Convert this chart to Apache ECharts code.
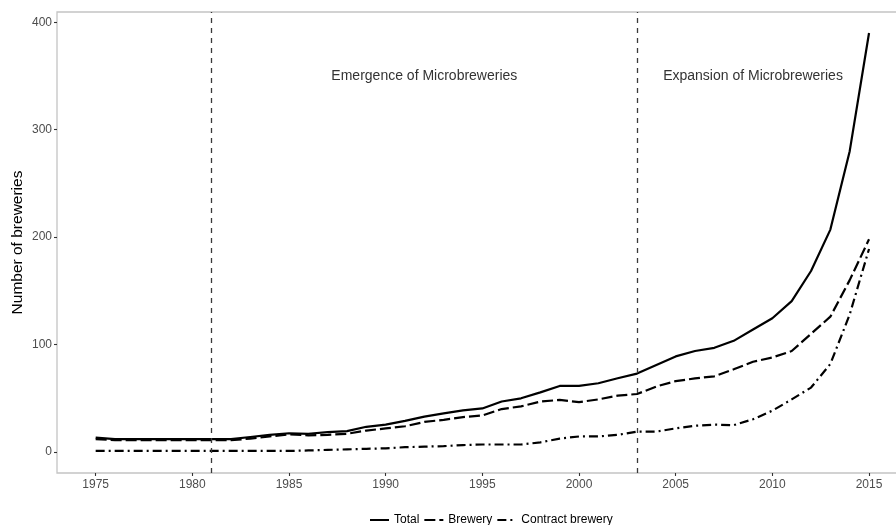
<!DOCTYPE html>
<html>
<head>
<meta charset="utf-8">
<script src="https://cdn.jsdelivr.net/npm/echarts@6/dist/echarts.min.js"></script>
<style>
html,body{margin:0;padding:0;background:#fff;}
#chart{width:896px;height:525px;}
</style>
</head>
<body>
<div id="chart"></div>
<script>
var years = [1975,1976,1977,1978,1979,1980,1981,1982,1983,1984,1985,1986,1987,1988,1989,1990,1991,1992,1993,1994,1995,1996,1997,1998,1999,2000,2001,2002,2003,2004,2005,2006,2007,2008,2009,2010,2011,2012,2013,2014,2015];
var total = [13.5,12,12,12,12,12,12,12,14,16,17.5,17,18.5,19.5,23.5,25.5,29,33,36,38.7,40.6,47,50,55.5,61.5,61.5,64,68.7,73,81,89,94,97,103.5,114,124.5,140.5,168.5,207,280,390];
var brewery = [12,11,11,11,11,11,11,11,12.5,14.5,16.5,15.5,16,17,20,22,24,28,30,32.5,34,40,42.5,47,48.5,46.5,49,52.5,54,61,66,68.5,70.5,77,84,88,94,110,126,160,198];
var contract = [1,1,1,1,1,1,1,1,1,1,1,1.5,2,2.5,3,3.5,4.5,5,5.5,6.5,7,7,7,9,12.5,14.5,14.5,16,19,19,22,24.5,25.5,25,30.5,38.5,49,60,82,128,189];
var xTicks = [1975,1980,1985,1990,1995,2000,2005,2010,2015];
var yTicks = [0,100,200,300,400];
var periodLines = [1981,2003];
var periodLabels = [
  {name:'Emergence of Microbreweries', x:1992, y:350},
  {name:'Expansion of Microbreweries', x:2009, y:350}
];
var seriesNames = ['Total','Brewery','Contract brewery'];

function pairs(vals){ return years.map(function(y,i){ return [y, vals[i]]; }); }

var font = 'Liberation Sans, Arial, sans-serif';
var chart = echarts.init(document.getElementById('chart'), null, {renderer:'canvas'});
chart.setOption({
  animation:false,
  backgroundColor:'#fff',
  textStyle:{fontFamily:font},
  grid:{left:57, top:12, width:850.7, height:461, show:true, borderColor:'#c4c4c4', borderWidth:1.3, containLabel:false, outerBoundsMode:'none'},
  legend:{
    data:seriesNames, left:364, top:509, itemWidth:19, itemHeight:14, itemGap:4,
    itemStyle:{opacity:0},
    textStyle:{fontSize:12, color:'#000', fontFamily:font}
  },
  xAxis:{
    type:'value', min:1973, max:2017,
    splitLine:{show:false},
    axisLine:{show:false, onZero:false},
    axisTick:{show:true, inside:false, length:3, lineStyle:{color:'#333', width:1.1}, customValues:xTicks},
    axisLabel:{color:'#4d4d4d', fontSize:12, margin:6, customValues:xTicks, formatter:function(v){return String(v);}}
  },
  yAxis:{
    type:'value', min:-19.5, max:409.5,
    name:'Number of breweries', nameLocation:'middle', nameGap:31, nameRotate:90, nameMoveOverlap:false,
    nameTextStyle:{fontSize:15.5, color:'#000', fontFamily:font},
    splitLine:{show:false},
    axisLine:{show:false, onZero:false},
    axisTick:{show:true, inside:false, length:3, lineStyle:{color:'#333', width:1.1}, customValues:yTicks},
    axisLabel:{color:'#4d4d4d', fontSize:12, margin:5, customValues:yTicks}
  },
  series:[
    {
      name:seriesNames[0], type:'line', data:pairs(total), symbol:'none', smooth:false,
      lineStyle:{color:'#000', width:2.2, type:'solid'}, itemStyle:{color:'#000'},
      markLine:{
        silent:true, symbol:['none','none'], label:{show:false},
        lineStyle:{color:'#3a3a3a', width:1.3, type:[5,5]},
        data:periodLines.map(function(v){ return {xAxis:v}; })
      },
      markPoint:{
        silent:true, symbol:'circle', symbolSize:0,
        label:{show:true, position:'inside', color:'#333', fontSize:14, fontFamily:font, formatter:function(p){return p.name;}},
        data:periodLabels.map(function(d){ return {name:d.name, coord:[d.x, d.y]}; })
      }
    },
    {
      name:seriesNames[1], type:'line', data:pairs(brewery), symbol:'none',
      lineStyle:{color:'#000', width:2.2, type:[11,4]}, itemStyle:{color:'#000'}
    },
    {
      name:seriesNames[2], type:'line', data:pairs(contract), symbol:'none',
      lineStyle:{color:'#000', width:2.2, type:[9,4,2,4]}, itemStyle:{color:'#000'}
    }
  ]
});
</script>
</body>
</html>
